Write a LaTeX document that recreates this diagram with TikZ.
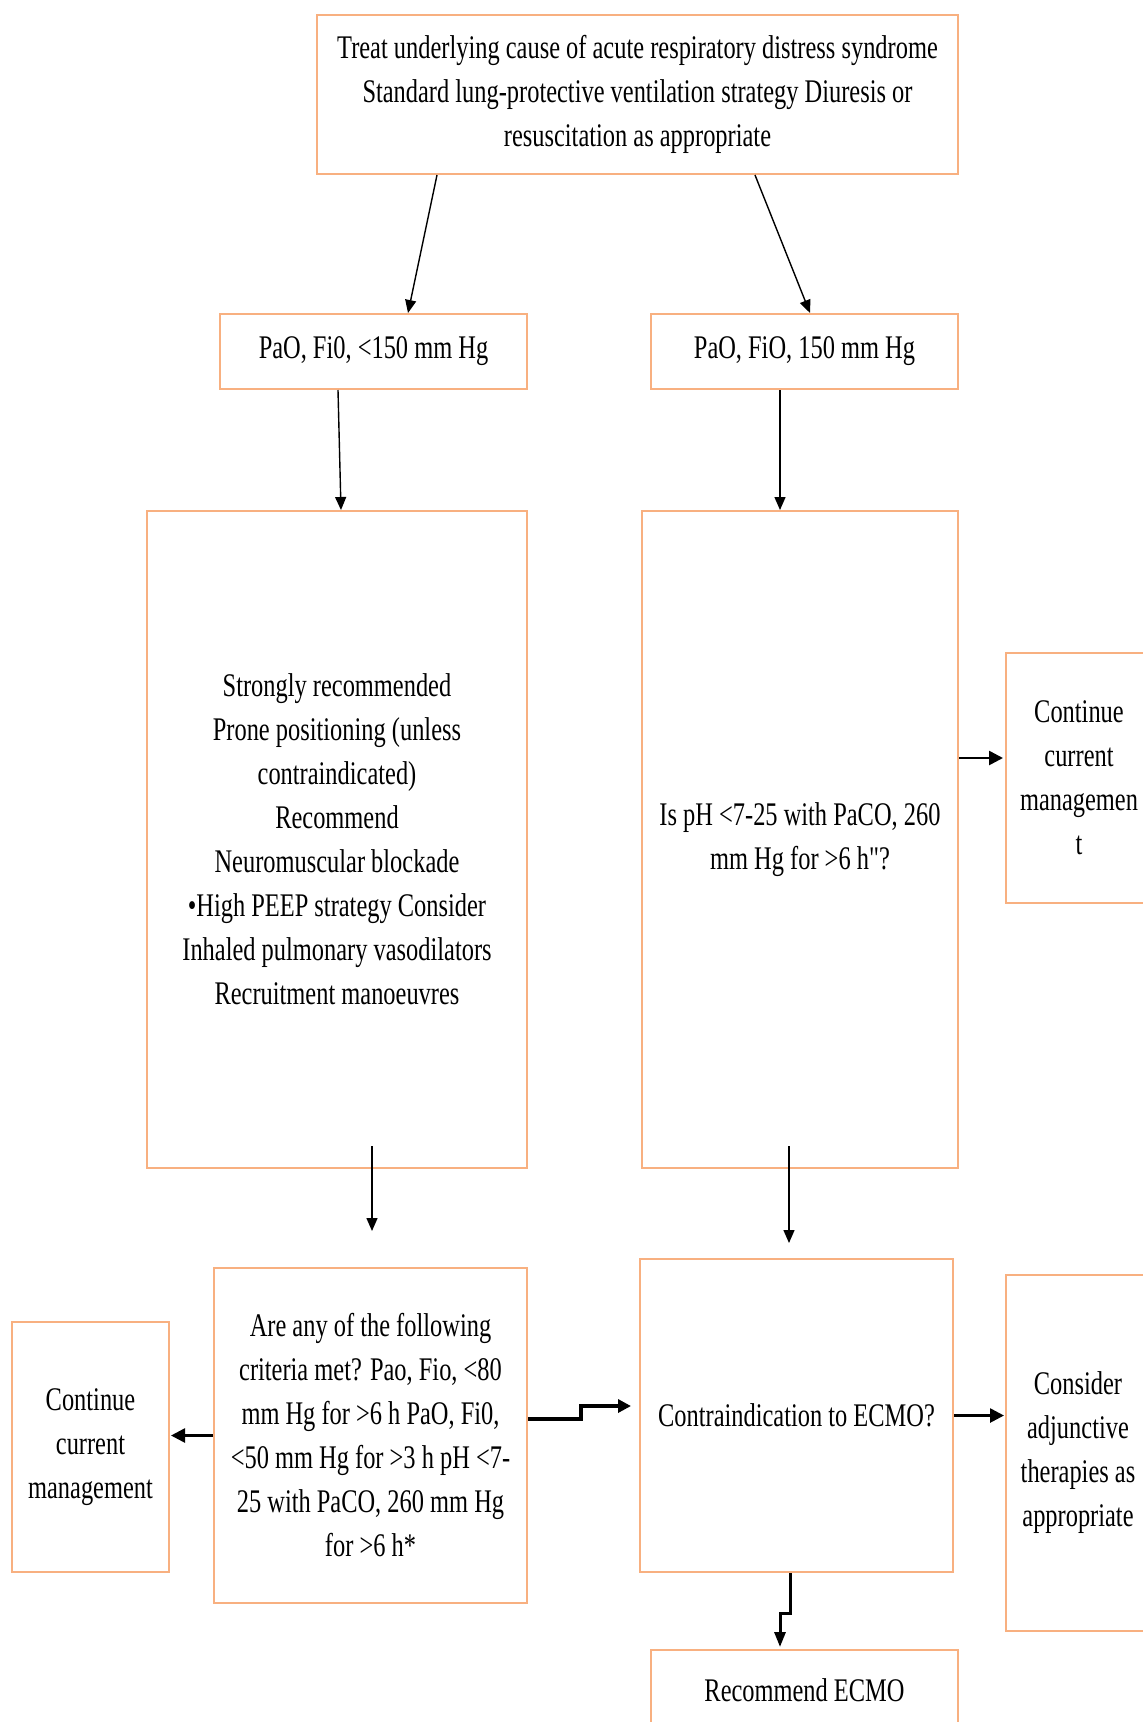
\documentclass[tikz,border=0pt]{standalone}
\usepackage{fontspec}
\setmainfont[FakeStretch=0.74,Ligatures=TeXOff]{Liberation Serif}
\usetikzlibrary{arrows.meta,calc}
\definecolor{boxorange}{RGB}{248,176,128}
\tikzset{
  fbox/.style={draw=boxorange, line width=2pt, fill=white, align=center,
    inner sep=0pt, font=\fontsize{33}{44}\selectfont},
  arr/.style={draw=black, line width=1.4pt, -{Triangle[length=13pt,width=11pt]}},
  harr/.style={draw=black, line width=2.6pt, -{Triangle[length=14pt,width=14pt]}},
  zig/.style={draw=black, line width=3.8pt, -{Triangle[length=13pt,width=13pt]}},
}
\begin{document}
\begin{tikzpicture}[x=1pt,y=-1pt]
\useasboundingbox[fill=white] (0,0) rectangle (1143,1722);
% boxes
\node[fbox, minimum width=641pt, minimum height=159pt] (top) at (637.5,94.5)
  {Treat underlying cause of acute respiratory distress syndrome\\
   Standard lung-protective ventilation strategy Diuresis or\\
   resuscitation as appropriate};
\node[fbox, minimum width=307pt, minimum height=75pt] (pl) at (373.5,351.5)
  {PaO, Fi0, <150 mm Hg};
\node[fbox, minimum width=307pt, minimum height=75pt] (pr) at (804.5,351.5)
  {PaO, FiO, 150 mm Hg};
\node[fbox, minimum width=380pt, minimum height=657pt] (bl) at (337,839.5)
  {Strongly recommended\\ Prone positioning (unless\\ contraindicated)\\ Recommend\\
   Neuromuscular blockade\\ \textbullet High PEEP strategy Consider\\
   Inhaled pulmonary vasodilators\\ Recruitment manoeuvres};
\node[fbox, minimum width=316pt, minimum height=657pt] (br) at (800,839.5)
  {Is pH <7-25 with PaCO, 260\\ mm Hg for >6 h"?};
\node[fbox, minimum width=146pt, minimum height=250pt] (cr) at (1079,778)
  {Continue\\ current\\ managemen\\ t};
\node[fbox, minimum width=313pt, minimum height=335pt] (any) at (370.5,1435.5)
  {Are any of the following\\ criteria met? Pao, Fio, <80\\ mm Hg for >6 h PaO, Fi0,\\
   <50 mm Hg for >3 h pH <7-\\ 25 with PaCO, 260 mm Hg\\ for >6 h*};
\node[fbox, minimum width=157pt, minimum height=250pt] (cl) at (90.5,1447)
  {Continue\\ current\\ management};
\node[fbox, minimum width=313pt, minimum height=313pt] (contra) at (796.5,1415.5)
  {Contraindication to ECMO?};
\node[fbox, minimum width=144pt, minimum height=356pt] (cons) at (1078,1453)
  {Consider\\ adjunctive\\ therapies as\\ appropriate};
\node[fbox, minimum width=307pt, minimum height=80pt] (ecmo) at (804.5,1690)
  {Recommend ECMO};
% connectors
\draw[arr] ([xshift=-200.5pt]top.south) -- ([xshift=34.5pt]pl.north);
\draw[arr] ([xshift=117.5pt]top.south) -- ([xshift=5.5pt]pr.north);
\draw[arr] ([xshift=-35.5pt]pl.south) -- ([xshift=4pt]bl.north);
\draw[arr] ([xshift=-24.5pt]pr.south) -- ([xshift=-20pt]br.north);
\draw[harr] ([yshift=81.5pt]br.east) -- ([xshift=-2pt,yshift=20pt]cr.west);
\draw[arr] ([xshift=35pt,yshift=23pt]bl.south) -- ([xshift=1.5pt,yshift=36pt]any.north);
\draw[arr] ([xshift=-11pt,yshift=23pt]br.south) -- ([xshift=-7.5pt,yshift=15pt]contra.north);
\draw[harr] (any.west) -- ([xshift=1pt]any.west -| cl.east);
\draw[harr] (contra.east) -- ([xshift=-1pt]contra.east -| cons.west);
\draw[zig] ([yshift=16.5pt]any.east) -- ++(53,0) |- ([xshift=-8pt,yshift=9.5pt]contra.west);
\draw[zig, line width=3pt, -{Triangle[length=15pt,width=11pt]}]
  ([xshift=-6.5pt]contra.south) -- ++(0,40) -| ([xshift=-24.5pt,yshift=2pt]ecmo.north);
\end{tikzpicture}
\end{document}
